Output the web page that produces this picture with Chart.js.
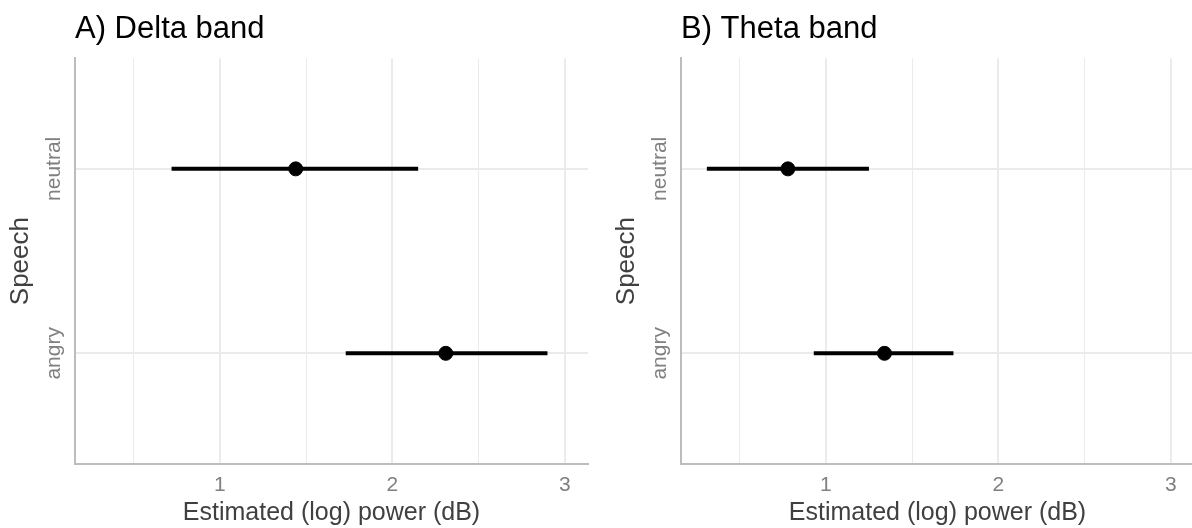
<!DOCTYPE html>
<html>
<head>
<meta charset="utf-8">
<script src="https://cdn.jsdelivr.net/npm/chart.js@4"></script>
<style>
  html, body { margin: 0; padding: 0; background: #fff; }
  body { width: 1192px; height: 528px; position: relative; overflow: hidden; }
  .panel { position: absolute; top: 0; width: 596px; height: 528px; }
</style>
</head>
<body>
<div class="panel" style="left:0"><canvas id="chart-delta" width="596" height="528"></canvas></div>
<div class="panel" style="left:606px"><canvas id="chart-theta" width="596" height="528"></canvas></div>
<script>
// Speech levels, bottom to top (y = 1, 2)
const speechLevels = ['angry', 'neutral'];
const xTickValues = [0.5, 1, 1.5, 2, 2.5, 3];
const xMin = 0.16;
const xMax = 3.135;

// Delta band: estimate with lower / upper interval
const deltaEstimate = [2.31, 1.44];
const deltaLower = [1.73, 0.72];
const deltaUpper = [2.90, 2.15];

// Theta band
const thetaEstimate = [1.34, 0.78];
const thetaLower = [0.93, 0.31];
const thetaUpper = [1.74, 1.25];

const FONT = "'Liberation Sans', Arial, Helvetica, sans-serif";
const GRID = '#ebebeb';
const AXIS = '#bdbdbd';

// rotated category labels on the y axis
const speechLabels = {
  id: 'speechLabels',
  afterDraw(chart) {
    const ctx = chart.ctx;
    const yScale = chart.scales.y;
    ctx.save();
    ctx.fillStyle = '#808080';
    ctx.font = '21px ' + FONT;
    ctx.textAlign = 'center';
    ctx.textBaseline = 'middle';
    speechLevels.forEach((lvl, i) => {
      const py = yScale.getPixelForValue(i + 1);
      ctx.save();
      ctx.translate(chart.chartArea.left - 21, py);
      ctx.rotate(-Math.PI / 2);
      ctx.fillText(lvl, 0, 0);
      ctx.restore();
    });
    ctx.restore();
  }
};

function buildDatasets(est, lo, hi) {
  const sets = speechLevels.map((lvl, i) => ({
    type: 'line',
    label: lvl,
    data: [{ x: lo[i], y: i + 1 }, { x: hi[i], y: i + 1 }],
    borderColor: '#000',
    borderWidth: 4,
    pointRadius: 0,
    showLine: true
  }));
  sets.push({
    type: 'scatter',
    label: 'estimate',
    data: est.map((v, i) => ({ x: v, y: i + 1 })),
    backgroundColor: '#000',
    borderColor: '#000',
    pointRadius: 7,
    pointHoverRadius: 7
  });
  return sets;
}

function makeChart(id, title, est, lo, hi) {
  return new Chart(document.getElementById(id), {
    type: 'scatter',
    data: { datasets: buildDatasets(est, lo, hi) },
    options: {
      responsive: false,
      animation: false,
      layout: { padding: { left: 0, right: 6, top: 0, bottom: 0 } },
      plugins: {
        legend: { display: false },
        tooltip: { enabled: false },
        title: {
          display: true,
          text: title,
          align: 'start',
          fullSize: false,
          color: '#000',
          font: { family: FONT, size: 31, weight: 'normal' },
          padding: { top: 11, bottom: 10 }
        }
      },
      scales: {
        x: {
          type: 'linear',
          min: xMin,
          max: xMax,
          afterBuildTicks: (s) => { s.ticks = xTickValues.map(v => ({ value: v })); },
          afterFit: (s) => { s.height = 64; },
          ticks: {
            padding: 9,
            color: '#808080',
            font: { family: FONT, size: 21 },
            callback: (v) => Number.isInteger(v) ? String(v) : ''
          },
          grid: {
            color: GRID,
            drawTicks: false,
            lineWidth: (c) => Number.isInteger(c.tick.value) ? 2 : 1
          },
          border: { display: true, color: AXIS, width: 2 },
          title: {
            display: true,
            text: 'Estimated (log) power (dB)',
            color: '#404040',
            font: { family: FONT, size: 25 },
            padding: { top: 0, bottom: 0 }
          }
        },
        y: {
          type: 'linear',
          min: 0.4,
          max: 2.6,
          afterBuildTicks: (s) => { s.ticks = speechLevels.map((_, i) => ({ value: i + 1 })); },
          afterFit: (s) => { s.width = 75; },
          ticks: { display: false },
          grid: { color: GRID, lineWidth: 2, drawTicks: false },
          border: { display: true, color: AXIS, width: 2 },
          title: {
            display: true,
            text: 'Speech',
            color: '#404040',
            font: { family: FONT, size: 26 },
            padding: { top: 5, bottom: 0 }
          }
        }
      }
    },
    plugins: [speechLabels]
  });
}

makeChart('chart-delta', 'A) Delta band', deltaEstimate, deltaLower, deltaUpper);
makeChart('chart-theta', 'B) Theta band', thetaEstimate, thetaLower, thetaUpper);
</script>
</body>
</html>
